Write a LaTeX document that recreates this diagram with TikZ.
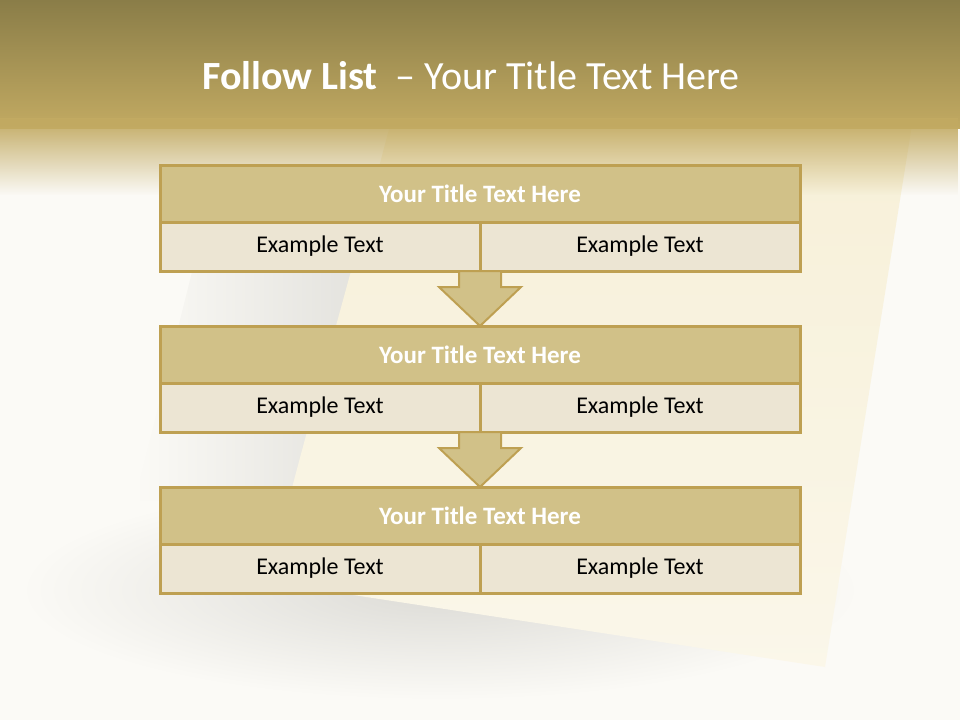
\documentclass[tikz,border=0pt]{standalone}
\usepackage{fontspec}
\setmainfont{Carlito}
\usetikzlibrary{positioning,fadings,calc}
\def\dy{55pt}
\definecolor{bandtop}{RGB}{138,125,72}
\definecolor{bandlow}{RGB}{194,170,98}
\definecolor{pagebg}{RGB}{251,250,246}
\definecolor{paper}{RGB}{247,240,216}
\definecolor{rim}{RGB}{190,160,82}
\definecolor{headfill}{RGB}{209,193,136}
\definecolor{cellfill}{RGB}{236,229,211}
\definecolor{shadow}{RGB}{220,219,214}
\tikzstyle{headrow}=[draw=rim,fill=headfill,line width=3pt,minimum width=640pt,minimum height=57pt,
  outer sep=0pt,inner sep=0pt,text=white,font=\bfseries\fontsize{25}{29}\selectfont]
\tikzstyle{cellrow}=[draw=rim,fill=cellfill,line width=3pt,minimum width=320pt,minimum height=49pt,
  outer sep=0pt,inner sep=0pt,font=\fontsize{24}{28}\selectfont]
\tikzstyle{flow}=[draw=rim,fill=headfill,line width=2pt,line join=miter]
\newcommand{\newStep}[2]{\node[headrow,#2](#1){Your Title Text Here};
  \node[cellrow,anchor=north west](#1l) at (#1.south west){Example Text};
  \node[cellrow,anchor=north east](#1r) at (#1.south east){Example Text};}
\newcommand{\newFlow}[2]{\path[flow] ($(#1)+(-21,0)$) -- ++(0,16) -- ++(-20,0) -- (#2)
  -- ($(#1)+(41,16)$) -- ++(-20,0) -- ++(0,-16) -- cycle;}

\begin{document}
\begin{tikzpicture}[x=1pt,y=-1pt]
  \useasboundingbox (0,0) rectangle (960,720);
  % background, shadows and paper sheet
  \fill[pagebg] (0,0) rectangle (960,720);
  \shade[inner color=shadow,outer color=pagebg] (20,480) rectangle (860,700);
  \shade[left color=pagebg,right color=shadow]
    (430,200) -- (355,500) -- (135,500) -- (210,200) -- cycle;
  \shade[top color=paper,bottom color=paper!55!white] (390,125) -- (912,125) -- (825,667) -- (268,582)
    .. controls (300,450) and (350,280) .. (390,125) -- cycle;
  % top band
  \shade[top color=bandtop,bottom color=bandlow] (0,0) rectangle (960,128);
  \fill[bandlow,path fading=south] (0,118) rectangle (960,195);
  \node[text=white,font=\fontsize{40}{46}\selectfont] (title) at (471,76)
    {\textbf{Follow List}\ \ – Your Title Text Here};
  % steps
  \newStep{s1}{at={(480,193.5)}}
  \newStep{s2}{below=\dy of s1l.south east}
  \newStep{s3}{below=\dy of s2l.south east}
  \newFlow{s1l.south east}{s2.north}
  \newFlow{s2l.south east}{s3.north}
\end{tikzpicture}
\end{document}
